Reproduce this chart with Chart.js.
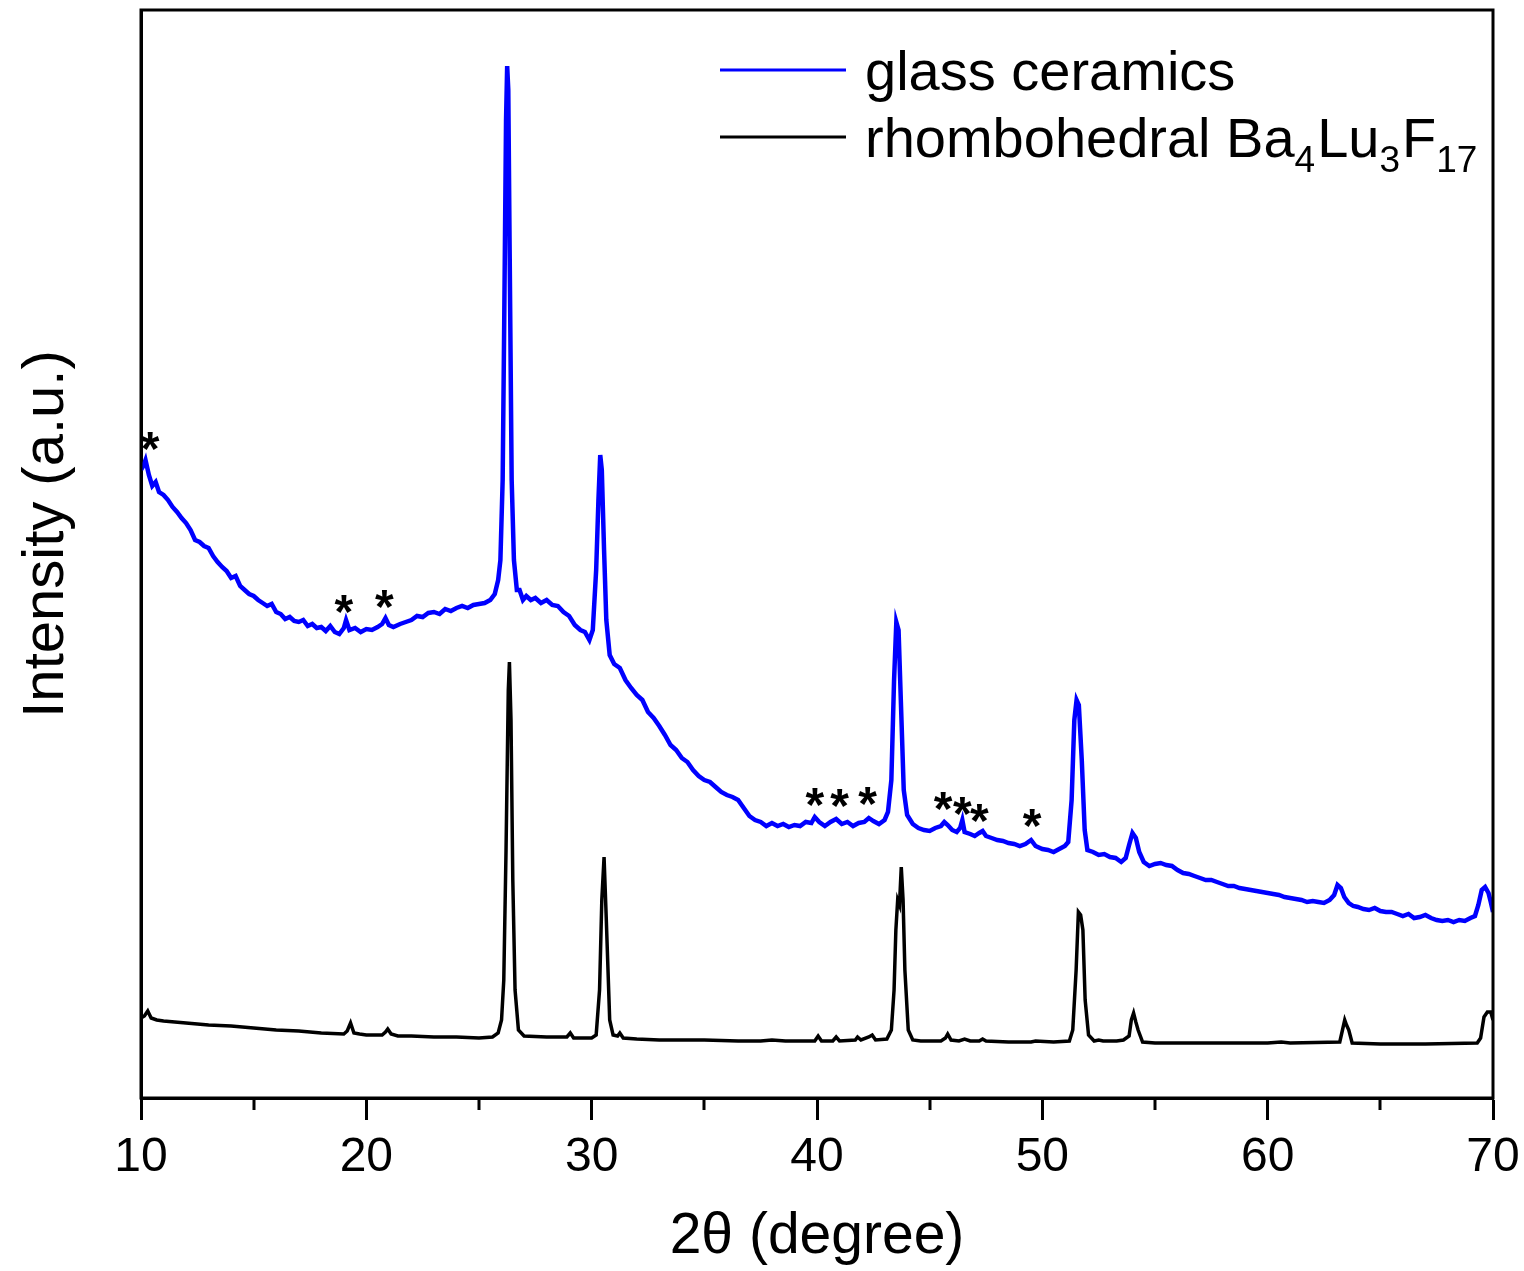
<!DOCTYPE html>
<html>
<head>
<meta charset="utf-8">
<script src="https://cdn.jsdelivr.net/npm/chart.js@4.4.1/dist/chart.umd.min.js"></script>
<style>
  html, body { margin: 0; padding: 0; background: #fff; overflow: hidden; }
  #wrap { width: 1524px; height: 1271px; position: relative; }
  canvas { display: block; }
</style>
</head>
<body>
<div id="wrap"><canvas id="xrdChart"></canvas></div>
<script>
// glass ceramics trace (2theta in degree, intensity in a.u.)
const glassAngles = [
  10.0, 10.1, 10.2, 10.35, 10.5, 10.65, 10.8, 11.0, 11.2, 11.4, 11.6, 11.8,
  12.0, 12.2, 12.4, 12.6, 12.8, 13.0, 13.2, 13.4, 13.6, 13.8, 14.0, 14.2,
  14.4, 14.6, 14.8, 15.0, 15.2, 15.4, 15.6, 15.8, 16.0, 16.2, 16.4, 16.6,
  16.8, 17.0, 17.2, 17.4, 17.6, 17.8, 18.0, 18.2, 18.4, 18.6, 18.8, 19.0,
  19.1, 19.25, 19.5, 19.75, 20.0, 20.25, 20.5, 20.7, 20.85, 21.0, 21.2, 21.5,
  21.75, 22.0, 22.25, 22.5, 22.75, 23.0, 23.25, 23.5, 23.75, 24.0, 24.25, 24.5,
  24.75, 25.0, 25.25, 25.5, 25.7, 25.85, 25.95, 26.05, 26.12, 26.2, 26.25, 26.3,
  26.36, 26.45, 26.55, 26.68, 26.8, 26.95, 27.1, 27.3, 27.5, 27.75, 28.0, 28.25,
  28.5, 28.75, 29.0, 29.25, 29.5, 29.7, 29.9, 30.05, 30.2, 30.3, 30.38, 30.45,
  30.55, 30.65, 30.8, 31.0, 31.25, 31.5, 31.75, 32.0, 32.25, 32.5, 32.75, 33.0,
  33.25, 33.5, 33.75, 34.0, 34.25, 34.5, 34.75, 35.0, 35.25, 35.5, 35.75, 36.0,
  36.25, 36.5, 36.75, 37.0, 37.25, 37.5, 37.75, 38.0, 38.25, 38.5, 38.75, 39.0,
  39.25, 39.5, 39.75, 39.9, 40.1, 40.35, 40.6, 40.85, 41.1, 41.35, 41.6, 41.85,
  42.1, 42.3, 42.5, 42.75, 43.0, 43.15, 43.3, 43.42, 43.52, 43.62, 43.72, 43.85,
  44.0, 44.25, 44.5, 44.75, 45.0, 45.25, 45.5, 45.65, 45.8, 46.0, 46.2, 46.35,
  46.45, 46.55, 46.8, 47.0, 47.2, 47.35, 47.5, 47.75, 48.0, 48.25, 48.5, 48.75,
  49.0, 49.25, 49.5, 49.7, 50.0, 50.25, 50.5, 50.75, 51.0, 51.15, 51.3, 51.42,
  51.52, 51.62, 51.75, 51.88, 52.0, 52.25, 52.5, 52.75, 53.0, 53.25, 53.5, 53.7,
  53.85, 54.0, 54.15, 54.3, 54.5, 54.75, 55.0, 55.25, 55.5, 55.75, 56.0, 56.25,
  56.5, 56.75, 57.0, 57.25, 57.5, 57.75, 58.0, 58.25, 58.5, 58.75, 59.0, 59.25,
  59.5, 59.75, 60.0, 60.25, 60.5, 60.75, 61.0, 61.25, 61.5, 61.75, 62.0, 62.25,
  62.5, 62.75, 62.95, 63.1, 63.25, 63.4, 63.6, 63.8, 64.0, 64.25, 64.5, 64.75,
  65.0, 65.25, 65.5, 65.75, 66.0, 66.25, 66.5, 66.75, 67.0, 67.25, 67.5, 67.75,
  68.0, 68.25, 68.5, 68.75, 69.0, 69.2, 69.35, 69.5, 69.65, 69.8, 69.9, 70.0
];
const glassIntensity = [
  628, 632, 638, 623, 612, 616, 606, 603, 598, 591, 586, 580,
  575, 568, 558, 556, 552, 550, 542, 536, 531, 527, 520, 522,
  512, 508, 504, 502, 498, 495, 492, 494, 486, 484, 479, 481,
  477, 476, 478, 472, 474, 470, 471, 467, 472, 466, 464, 470,
  478, 468, 470, 466, 469, 468, 471, 474, 480, 473, 471, 474,
  476, 478, 482, 481, 485, 486, 484, 489, 487, 490, 492, 490,
  493, 494, 495, 498, 504, 518, 538, 618, 778, 978, 1032, 1008,
  848, 618, 538, 508, 508, 498, 502, 498, 500, 495, 498, 493,
  492, 486, 482, 473, 468, 466, 458, 468, 528, 598, 643, 628,
  548, 478, 443, 434, 430, 418, 410, 403, 398, 386, 380, 372,
  363, 353, 348, 340, 336, 328, 322, 318, 316, 311, 306, 303,
  301, 298, 290, 282, 278, 276, 272, 275, 272, 274, 271, 273,
  272, 276, 275, 281, 276, 272, 276, 279, 274, 276, 272, 275,
  276, 280, 277, 274, 278, 286, 318, 418, 476, 468, 398, 308,
  283, 274, 270, 268, 267, 270, 272, 276, 273, 268, 266, 270,
  278, 266, 264, 262, 265, 267, 262, 260, 258, 257, 255, 254,
  252, 254, 258, 252, 249, 248, 246, 249, 252, 256, 298, 378,
  398, 393, 338, 268, 248, 246, 243, 244, 241, 240, 236, 240,
  253, 265, 260, 246, 236, 232, 234, 235, 233, 232, 228, 225,
  224, 222, 220, 218, 218, 216, 214, 212, 212, 210, 209, 208,
  207, 206, 205, 204, 203, 201, 200, 199, 198, 196, 197, 196,
  195, 198, 203, 213, 210, 201, 195, 192, 191, 189, 188, 190,
  187, 186, 186, 184, 182, 184, 180, 181, 183, 180, 178, 177,
  178, 176, 178, 177, 180, 182, 193, 208, 211, 205, 196, 186
];

// rhombohedral Ba4Lu3F17 reference trace
const refAngles = [
  10.0, 10.15, 10.3, 10.45, 10.7, 11.0, 12.0, 13.0, 14.0, 15.0, 16.0, 17.0,
  18.0, 19.0, 19.15, 19.3, 19.45, 19.7, 20.0, 20.7, 20.85, 20.95, 21.1, 21.4,
  22.0, 23.0, 24.0, 25.0, 25.6, 25.85, 26.0, 26.1, 26.2, 26.3, 26.35, 26.42,
  26.5, 26.6, 26.75, 27.0, 28.0, 28.9, 29.05, 29.2, 30.0, 30.2, 30.35, 30.45,
  30.55, 30.65, 30.8, 30.95, 31.15, 31.25, 31.4, 32.0, 33.0, 35.0, 36.5, 37.5,
  38.0, 38.6, 39.5, 39.9, 40.05, 40.2, 40.7, 40.85, 41.0, 41.7, 41.8, 41.95,
  42.3, 42.45, 42.6, 43.1, 43.3, 43.42, 43.5, 43.58, 43.66, 43.74, 43.82, 43.9,
  44.05, 44.25, 44.6, 45.5, 45.7, 45.8, 45.95, 46.3, 46.55, 46.8, 47.2, 47.35,
  47.5, 48.5, 49.5, 49.7, 50.5, 51.2, 51.35, 51.5, 51.6, 51.7, 51.8, 51.9,
  52.05, 52.3, 52.5, 52.7, 53.3, 53.6, 53.85, 53.95, 54.05, 54.15, 54.25, 54.45,
  55.0, 57.0, 58.5, 60.0, 60.6, 61.0, 63.2, 63.32, 63.42, 63.5, 63.6, 63.75,
  65.0, 67.0, 69.3, 69.45, 69.6, 69.75, 69.9, 70.0
];
const refIntensity = [
  80, 82, 87, 80, 78, 77, 75, 73, 72, 70, 68, 67,
  65, 64, 67, 75, 65, 64, 63, 63, 66, 69, 64, 62,
  62, 61, 61, 60, 61, 65, 78, 118, 248, 408, 436, 378,
  218, 108, 68, 62, 61, 61, 65, 60, 60, 63, 108, 198,
  241, 178, 78, 63, 62, 65, 60, 59, 58, 58, 57, 57,
  58, 57, 57, 57, 62, 57, 57, 61, 57, 58, 61, 58,
  61, 63, 58, 59, 68, 108, 168, 198, 193, 231, 198, 128,
  68, 58, 57, 57, 60, 64, 58, 57, 59, 57, 57, 59,
  57, 56, 56, 57, 56, 57, 68, 128, 186, 183, 168, 98,
  63, 57, 58, 57, 57, 58, 62, 78, 85, 76, 68, 56,
  55, 55, 55, 55, 56, 55, 56, 68, 78, 73, 68, 55,
  54, 54, 55, 60, 81, 86, 86, 78
];

const xTicks = [10, 20, 30, 40, 50, 60, 70];
const xMinorTicks = [15, 25, 35, 45, 55, 65];

// asterisk marks (impurity reflections) above the glass ceramics trace
const starAngles = [10.4, 19.0, 20.8, 39.9, 41.0, 42.25, 45.6, 46.45, 47.2, 49.55];
const starLevels = [658, 495, 500, 302, 301, 303, 298, 293, 286, 281];

const FONT = "'Liberation Sans', Arial, Helvetica, sans-serif";

const framePlugin = {
  id: 'frame',
  afterDraw(chart) {
    const { ctx, chartArea: a, scales } = chart;
    const x = scales.x;
    const y = scales.y;
    ctx.save();
    // box around the plot
    ctx.strokeStyle = '#000';
    ctx.lineWidth = 3;
    ctx.strokeRect(a.left, a.top, a.right - a.left, a.bottom - a.top);
    // minor ticks
    ctx.beginPath();
    xMinorTicks.forEach(v => {
      const px = Math.round(x.getPixelForValue(v));
      ctx.moveTo(px, a.bottom);
      ctx.lineTo(px, a.bottom + 12);
    });
    ctx.stroke();

    // y axis title, placed a little above centre like the original
    ctx.save();
    ctx.translate(47, 534);
    ctx.rotate(-Math.PI / 2);
    ctx.fillStyle = '#000';
    ctx.font = '58px ' + FONT;
    ctx.textAlign = 'center';
    ctx.textBaseline = 'middle';
    ctx.fillText('Intensity (a.u.)', 0, 0);
    ctx.restore();

    // asterisks
    ctx.fillStyle = '#000';
    ctx.font = 'bold 48px ' + FONT;
    ctx.textAlign = 'center';
    ctx.textBaseline = 'middle';
    starAngles.forEach((v, i) => {
      ctx.fillText('*', x.getPixelForValue(v), y.getPixelForValue(starLevels[i]) + 12);
    });

    // legend
    const rows = [
      { color: '#0000ff', parts: [['glass ceramics', 0]] },
      { color: '#000000', parts: [['rhombohedral Ba', 0], ['4', 1], ['Lu', 0], ['3', 1], ['F', 0], ['17', 1]] }
    ];
    const lineY = [70, 137];
    rows.forEach((row, r) => {
      ctx.strokeStyle = row.color;
      ctx.lineWidth = 3;
      ctx.beginPath();
      ctx.moveTo(720, lineY[r]);
      ctx.lineTo(846, lineY[r]);
      ctx.stroke();
      let tx = 865;
      const base = lineY[r] + 20;
      ctx.textAlign = 'left';
      ctx.textBaseline = 'alphabetic';
      row.parts.forEach(([txt, sub]) => {
        ctx.font = (sub ? '37px ' : '56px ') + FONT;
        ctx.fillText(txt, tx, sub ? base + 15 : base);
        tx += ctx.measureText(txt).width + (sub ? 2 : 0);
      });
    });
    ctx.restore();
  }
};

const ctx = document.getElementById('xrdChart').getContext('2d');
new Chart(ctx, {
  type: 'line',
  data: {
    datasets: [
      {
        label: 'glass ceramics',
        data: glassAngles.map((a, i) => ({ x: a, y: glassIntensity[i] })),
        borderColor: '#0000ff',
        borderWidth: 4.5,
        pointRadius: 0,
        tension: 0,
        fill: false
      },
      {
        label: 'rhombohedral Ba4Lu3F17',
        data: refAngles.map((a, i) => ({ x: a, y: refIntensity[i] })),
        borderColor: '#000000',
        borderWidth: 3.5,
        pointRadius: 0,
        tension: 0,
        fill: false
      }
    ]
  },
  options: {
    responsive: true,
    maintainAspectRatio: false,
    animation: false,
    layout: { padding: { top: 10, right: 31, left: 0, bottom: 0 } },
    plugins: {
      legend: { display: false },
      tooltip: { enabled: false }
    },
    scales: {
      x: {
        type: 'linear',
        min: 10,
        max: 70,
        afterBuildTicks: s => { s.ticks = xTicks.map(v => ({ value: v })); },
        afterFit: s => {
          s.height = 173;
          s.paddingLeft = 0;
          s.paddingRight = 0;
        },
        grid: {
          drawOnChartArea: false,
          tickLength: 22,
          tickWidth: 3,
          tickColor: '#000'
        },
        border: { display: true, color: '#000', width: 3 },
        ticks: {
          color: '#000',
          padding: 9,
          maxRotation: 0,
          font: { family: FONT, size: 48 }
        },
        title: {
          display: true,
          text: '2\u03b8 (degree)',
          color: '#000',
          padding: { top: 0, bottom: 0 },
          font: { family: FONT, size: 57 }
        }
      },
      y: {
        type: 'linear',
        min: 0,
        max: 1088,
        afterFit: s => { s.width = 141; },
        grid: { display: false },
        border: { display: true, color: '#000', width: 3 },
        ticks: { display: false },
        title: { display: false }
      }
    }
  },
  plugins: [framePlugin]
});
</script>
</body>
</html>
